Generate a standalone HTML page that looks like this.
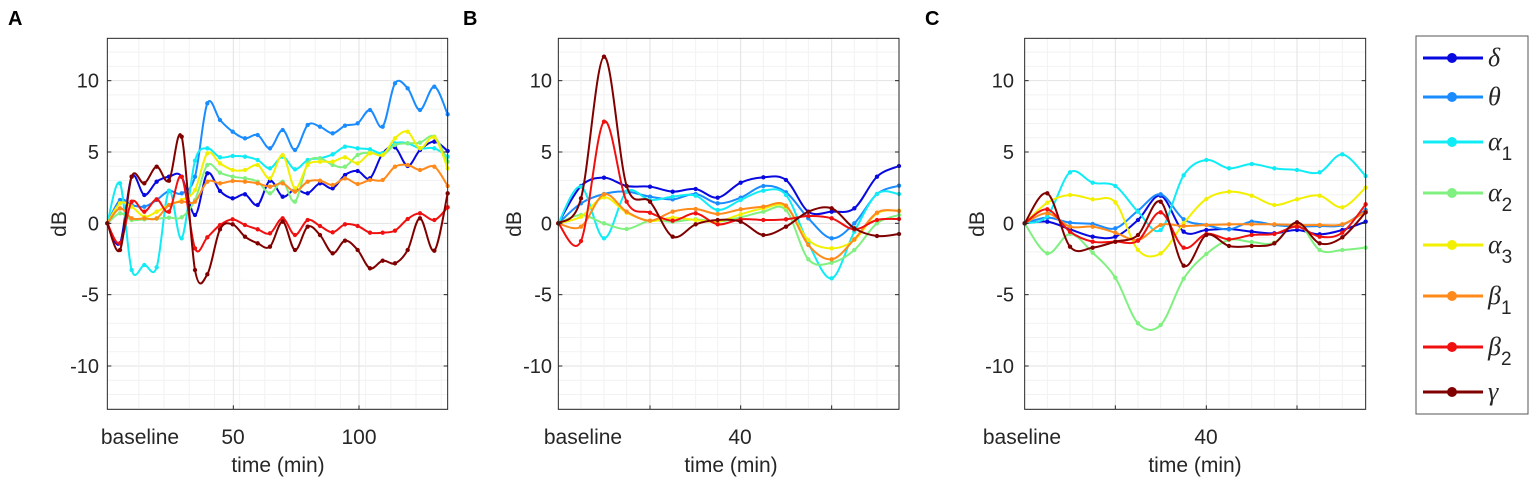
<!DOCTYPE html>
<html><head><meta charset="utf-8"><style>
body{margin:0;background:#fff;width:1535px;height:488px;overflow:hidden;font-family:"Liberation Sans",sans-serif;}
</style></head><body>
<svg id="s" width="1535" height="488" xmlns="http://www.w3.org/2000/svg" font-family="Liberation Sans, sans-serif" fill="#262626"></svg>
<script>
const S=document.getElementById('s');let h='';
const cols=['#0808e0','#1a8cff','#10ecf5','#80f080','#f2f000','#ff8a1a','#f01010','#800000'];
function path(xs,ys){const p=xs.map((x,i)=>[x,ys[i]]);let d='M'+p[0][0]+','+p[0][1];
for(let i=0;i<p.length-1;i++){const a=p[Math.max(i-1,0)],b=p[i],c=p[i+1],e=p[Math.min(i+2,p.length-1)];
d+=' C'+(b[0]+(c[0]-a[0])/6).toFixed(1)+','+(b[1]+(c[1]-a[1])/6).toFixed(1)+' '+(c[0]-(e[0]-b[0])/6).toFixed(1)+','+(c[1]-(e[1]-b[1])/6).toFixed(1)+' '+c[0]+','+c[1];}return d;}
function panel(tx,ty,L,R,vmaj,vmin,xs,data){
 h+=`<g transform="translate(${tx},${ty}) scale(0.33333)">`;
 h+=`<rect x="${L}" y="25" width="${R-L}" height="1113" fill="#fff"/>`;
 for(let v=-13;v<=13;v++){const y=580-v*42.8;if(y<25||y>1138)continue;h+=`<line x1="${L}" x2="${R}" y1="${y}" y2="${y}" stroke="${v%5==0?'#e2e2e2':'#f2f2f2'}" stroke-width="3"/>`;}
 vmin.forEach(x=>h+=`<line x1="${x}" x2="${x}" y1="25" y2="1138" stroke="#f2f2f2" stroke-width="3"/>`);
 vmaj.forEach(x=>h+=`<line x1="${x}" x2="${x}" y1="25" y2="1138" stroke="#e2e2e2" stroke-width="3"/>`);
 data.forEach((ys,k)=>{h+=`<path d="${path(xs,ys)}" fill="none" stroke="${cols[k]}" stroke-width="6"/>`;
  xs.forEach((x,i)=>h+=`<circle cx="${x}" cy="${ys[i]}" r="6.5" fill="${cols[k]}"/>`);});
 h+=`<rect x="${L}" y="25" width="${R-L}" height="1113" fill="none" stroke="#262626" stroke-width="3"/>`;
 [-10,-5,0,5,10].forEach(v=>{const y=580-v*42.8;h+=`<line x1="${L}" x2="${L+12}" y1="${y}" y2="${y}" stroke="#262626" stroke-width="3"/><line x1="${R}" x2="${R-12}" y1="${y}" y2="${y}" stroke="#262626" stroke-width="3"/>`});
 vmaj.forEach(x=>h+=`<line x1="${x}" x2="${x}" y1="1138" y2="1126" stroke="#262626" stroke-width="3"/>`);
 h+='</g>';}
const xa=[52,90,125,163,200,237,275,315,352,390,428,465,503,540,578,615,653,690,728,765,803,840,878,915,953,990,1033,1073];
const mA=[];for(let x=52+126*0.75;x<1073;x+=75.6)mA.push(x);
panel(90,30,52,1073,[430,807],mA,xa,[
[580,640,440,495,455,440,440,555,430,483,505,493,525,452,500,478,490,460,475,435,423,445,370,352,408,360,335,363],
[580,510,525,530,510,483,490,440,220,270,305,325,315,355,300,360,285,290,310,287,280,240,290,160,175,240,170,253],
[580,460,720,705,712,482,625,392,355,382,378,380,390,415,380,418,390,385,373,350,355,358,370,340,340,355,355,380],
[580,550,570,568,566,563,562,510,405,428,440,445,455,490,455,515,400,385,405,410,375,368,375,345,340,338,320,395],
[580,520,530,560,545,525,510,480,370,400,420,420,405,445,375,475,405,395,395,382,400,370,375,325,305,355,322,415],
[580,535,565,565,565,525,515,515,455,460,453,455,460,470,460,485,455,452,465,445,462,450,450,410,405,420,410,468],
[580,640,515,545,508,545,440,655,622,585,568,585,598,610,565,615,570,588,607,583,588,608,608,602,567,550,570,532],
[580,660,440,460,410,452,320,720,733,598,583,620,640,650,575,660,590,615,670,632,660,715,692,700,660,565,662,490]]);
const xb=[40,108,177,245,315,383,452,518,587,655,723,790,860,928,996,1062];
panel(545,30,40,1062,[315,587,860],[108,177,245,383,452,518,655,723,790,928,996],xb,[
[580,468,443,468,470,485,477,503,458,442,450,545,545,535,440,408],
[580,520,492,485,500,508,492,520,503,468,487,565,625,580,492,467],
[580,470,625,485,510,500,497,540,510,482,495,640,745,605,492,492],
[580,555,580,597,572,575,568,575,562,545,540,688,698,660,580,555],
[580,560,502,548,573,563,570,575,553,535,530,630,655,630,550,542],
[580,590,493,545,572,545,537,552,538,530,527,645,688,628,548,543],
[580,633,275,515,548,572,550,583,568,570,568,558,565,598,570,567],
[580,505,80,468,515,620,583,570,575,615,590,545,535,595,618,612]]);
const xc=[50,118,186,254,322,390,458,527,595,663,731,799,867,935,1003,1073];
panel(1008,30,50,1073,[322,595,867],[118,186,254,390,458,527,663,731,799,935,1003],xc,[
[580,575,598,620,620,570,497,605,600,597,605,610,600,613,600,575],
[580,563,578,582,595,542,493,568,585,598,575,585,590,588,585,540],
[580,558,427,458,468,545,600,436,390,415,402,415,420,427,373,438],
[580,670,612,668,743,880,885,746,672,630,636,638,578,660,660,653],
[580,518,495,508,517,660,670,580,507,485,497,525,508,497,532,473],
[580,550,590,590,608,630,585,588,585,583,583,583,585,585,583,545],
[580,538,605,635,635,632,547,653,612,628,615,612,590,620,608,523],
[580,490,650,653,635,615,515,707,615,648,648,640,577,640,622,547]]);
const yt=[[10,80.7],[5,152],[0,223.3],[-5,294.7],[-10,366]];
[[99,66,'A',8],[552,521,'B',463],[1014,984,'C',925]].forEach(([rx,dx,l,lx])=>{
 yt.forEach(([v,y])=>h+=`<text x="${rx}" y="${y+7}" font-size="20" text-anchor="end">${v}</text>`);
 h+=`<text transform="translate(${dx},224) rotate(-90)" font-size="21" text-anchor="middle">dB</text>`;
 h+=`<text x="${lx}" y="25" font-size="20" font-weight="bold" fill="#000">${l}</text>`;});
[[140,'baseline'],[233,'50'],[359,'100'],[278,'time (min)',472],[583,'baseline'],[740,'40'],[731,'time (min)',472],[1022,'baseline'],[1206,'40'],[1195,'time (min)',472]].forEach(([x,t,y])=>h+=`<text x="${x}" y="${y||444}" font-size="21" text-anchor="middle">${t}</text>`);
h+=`<rect x="1416" y="36" width="112" height="378" fill="#fff" stroke="#555" stroke-width="1"/>`;
const ly=[58,97,142,193,245,296,347,392];
const sub=n=>`<tspan dy="10" font-size="19" font-style="normal" font-family="Liberation Sans, sans-serif">${n}</tspan>`;
const ln=['δ','θ','α'+sub(1),'α'+sub(2),'α'+sub(3),'β'+sub(1),'β'+sub(2),'γ'];
ly.forEach((y,k)=>{h+=`<line x1="1423" x2="1483" y1="${y}" y2="${y}" stroke="${cols[k]}" stroke-width="3"/><circle cx="1452" cy="${y}" r="5" fill="${cols[k]}"/>`;
 h+=`<text x="1488" y="${y+8}" font-size="26" font-style="italic" font-family="Liberation Serif, serif" fill="#262626">${ln[k]}</text>`;});
S.innerHTML=h;
</script>
</body></html>
